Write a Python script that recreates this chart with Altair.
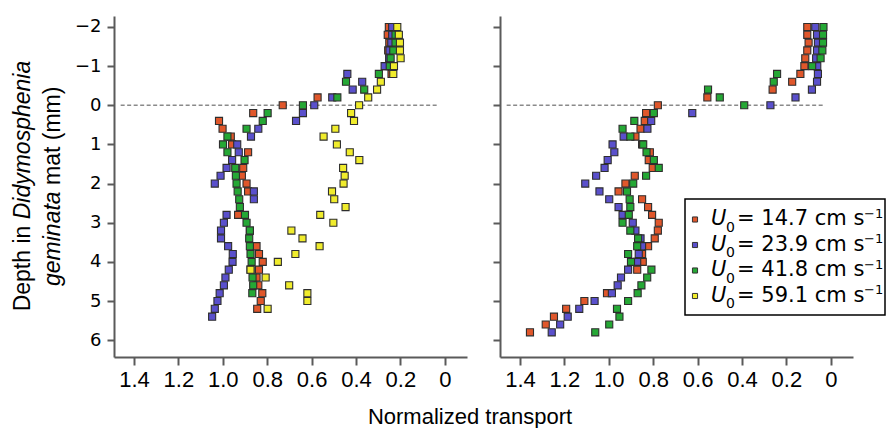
import altair as alt
import pandas as pd

# ---------------- data ----------------
SPEEDS = ["14.7", "23.9", "41.8", "59.1"]
COLORS = ["#E0572B", "#5A50CC", "#25A835", "#F0EC2C"]

# Left panel
L_RED_D = [-2.0, -1.8, -1.6, -1.4, -1.2, -1.0, -0.8, -0.2, 0.0, 0.2, 0.4, 0.6, 0.8, 1.0, 1.2,
           1.6, 1.8, 2.0, 2.2, 2.8, 3.2, 3.6, 3.8, 4.0, 4.2, 4.4, 4.6, 4.8, 5.0, 5.2]
L_RED_V = [0.252, 0.257, 0.250, 0.255, 0.250, 0.260, 0.240, 0.573, 0.730, 0.863, 1.017, 1.001, 0.964, 0.958, 0.886,
           0.908, 0.914, 0.893, 0.886, 0.931, 0.878, 0.848, 0.837, 0.820, 0.837, 0.848, 0.840, 0.822, 0.829, 0.845]

L_BLUE_D = [-2.0, -1.8, -1.6, -1.4, -1.2, -1.0, -0.8, -0.6, -0.4, -0.2,
            0.0, 0.2, 0.4, 0.6, 0.8, 1.0, 1.2, 1.4, 1.6, 1.8, 2.0, 2.2, 2.4,
            2.8, 3.0, 3.2, 3.4, 3.6, 3.8, 4.0, 4.2, 4.4, 4.6, 4.8, 5.0, 5.2, 5.4]
L_BLUE_V = [0.237, 0.237, 0.241, 0.249, 0.250, 0.271, 0.439, 0.372, 0.415, 0.507,
            0.588, 0.639, 0.670, 0.840, 0.873, 0.935, 0.928, 0.958, 0.983, 1.010, 1.036, 0.860, 0.860,
            0.983, 0.995, 1.008, 1.008, 0.976, 0.955, 0.956, 0.973, 0.988, 0.995, 1.014, 1.024, 1.036, 1.048]

L_GREEN_D = [-1.8, -1.6, -1.4, -1.2, -1.0, -0.8, -0.6, -0.4, -0.2,
             0.0, 0.2, 0.4, 0.6, 0.8, 1.0, 1.2, 1.4, 1.6, 1.8, 2.0,
             2.2, 2.4, 2.6, 2.8, 3.0, 3.2, 3.4, 3.6, 3.8, 4.0,
             4.2, 4.4, 4.6, 4.8]
L_GREEN_V = [0.222, 0.222, 0.232, 0.244, 0.248, 0.297, 0.445, 0.363, 0.484,
             0.639, 0.798, 0.820, 0.893, 0.979, 0.999, 0.979, 0.902, 0.944, 0.941, 0.938,
             0.933, 0.926, 0.923, 0.900, 0.893, 0.878, 0.881, 0.878, 0.875, 0.870,
             0.875, 0.866, 0.863, 0.867]

L_YELLOW_D = [-2.0, -1.8, -1.6, -1.4, -1.2, -1.0, -0.8, -0.6, -0.4, -0.2,
              0.0, 0.2, 0.4, 0.6, 0.8, 1.0, 1.2, 1.4, 1.6, 1.8,
              2.0, 2.2, 2.4, 2.6, 2.8, 3.0, 3.2, 3.4, 3.6, 3.8,
              4.0, 4.2, 4.4, 4.6, 4.8, 5.0, 5.2]
L_YELLOW_V = [0.214, 0.207, 0.202, 0.202, 0.199, 0.229, 0.232, 0.288, 0.305, 0.345,
              0.386, 0.422, 0.409, 0.493, 0.546, 0.486, 0.428, 0.385, 0.458, 0.451,
              0.456, 0.508, 0.498, 0.447, 0.561, 0.502, 0.691, 0.641, 0.564, 0.673,
              0.752, 0.875, 0.807, 0.701, 0.619, 0.619, 0.798]

# Right panel
R_RED_D = [-2.0, -1.8, -1.6, -1.4, -1.2, -1.0, -0.8, -0.6, -0.4, -0.2,
           0.0, 0.2, 0.4, 0.6, 0.8, 1.0, 1.2, 1.4, 1.6, 1.8,
           2.0, 2.2, 2.4, 2.6, 2.8, 3.0, 3.2, 3.4, 3.6, 3.8,
           4.0, 4.2, 4.8, 5.0, 5.2, 5.4, 5.6, 5.8]
R_RED_V = [0.106, 0.106, 0.100, 0.106, 0.115, 0.119, 0.137, 0.174, 0.262, 0.556,
           0.779, 0.832, 0.838, 0.857, 0.880, 0.850, 0.815, 0.820, 0.802, 0.883,
           0.925, 0.956, 0.850, 0.823, 0.805, 0.775, 0.779, 0.793, 0.823, 0.850,
           0.847, 0.872, 1.008, 1.110, 1.192, 1.247, 1.284, 1.355]

R_BLUE_D = [-2.0, -1.8, -1.6, -1.4, -1.2, -1.0, -0.8, -0.6, -0.4, -0.2,
            0.0, 0.2, 0.4, 0.6, 0.8, 1.0, 1.2, 1.4, 1.6, 1.8,
            2.0, 2.2, 2.4, 2.6, 2.8, 3.0, 3.2, 3.4, 3.6, 3.8,
            4.0, 4.2, 4.4, 4.6, 4.8, 5.0, 5.2, 5.4, 5.6, 5.8]
R_BLUE_V = [0.070, 0.062, 0.058, 0.062, 0.066, 0.061, 0.058, 0.062, 0.085, 0.159,
            0.272, 0.624, 0.809, 0.826, 0.933, 0.983, 0.975, 1.005, 1.019, 1.057,
            1.106, 1.042, 0.998, 0.956, 0.938, 0.892, 0.880, 0.857, 0.850, 0.865,
            0.872, 0.913, 0.945, 0.960, 0.986, 1.064, 1.133, 1.185, 1.219, 1.257]

R_GREEN_D = R_BLUE_D
R_GREEN_V = [0.033, 0.035, 0.035, 0.038, 0.046, 0.084, 0.242, 0.257, 0.553, 0.500,
             0.390, 0.797, 0.885, 0.938, 0.903, 0.845, 0.830, 0.797, 0.775, 0.832,
             0.890, 0.918, 0.906, 0.903, 0.910, 0.938, 0.903, 0.868, 0.872, 0.913,
             0.900, 0.808, 0.827, 0.853, 0.870, 0.913, 0.963, 0.952, 0.998, 1.061]

X_TICKS = [0, 0.2, 0.4, 0.6, 0.8, 1.0, 1.2, 1.4]
Y_TICKS = [-2, -1, 0, 1, 2, 3, 4, 5, 6]


def frame(series):
    rows = []
    for i, (d, v) in enumerate(series):
        for dd, vv in zip(d, v):
            rows.append({"series": SPEEDS[i], "order": i, "depth": dd, "transport": vv})
    return pd.DataFrame(rows)


left_df = frame([(L_RED_D, L_RED_V), (L_BLUE_D, L_BLUE_V), (L_GREEN_D, L_GREEN_V), (L_YELLOW_D, L_YELLOW_V)])
right_df = frame([(R_RED_D, R_RED_V), (R_BLUE_D, R_BLUE_V), (R_GREEN_D, R_GREEN_V)])

FONT = "Liberation Sans"
FONT2 = "DejaVu Sans"
W, H = 353, 341
AX = "#5a5a5a"

x_scale = alt.Scale(domain=[-0.1, 1.49], reverse=True, nice=False, zero=False)
y_scale = alt.Scale(domain=[-2.28, 6.43], reverse=True, nice=False, zero=False)
color_scale = alt.Scale(domain=SPEEDS, range=COLORS)


def x_axis():
    return alt.Axis(values=X_TICKS, title=None, grid=False,
                    labelExpr="datum.value == 0 ? '0' : format(datum.value, '.1f')",
                    domainColor=AX, domainWidth=2, tickColor=AX, tickWidth=2, tickSize=8,
                    labelFont=FONT, labelFontSize=22, labelColor="black", labelPadding=4)


def y_axis(labels):
    return alt.Axis(values=Y_TICKS, title=None, grid=False, format="d", labels=labels,
                    domainColor=AX, domainWidth=2, tickColor=AX, tickWidth=2, tickSize=7,
                    labelFont=FONT2, labelFontSize=18, labelColor="black", labelPadding=6)


ONE = pd.DataFrame({"k": [0]})


def txt(s, x, y, size, angle=0, align="left", font=FONT, style="normal"):
    return alt.Chart(ONE).mark_text(text=s, angle=angle, align=align, baseline="alphabetic",
                                    font=font, fontSize=size, fontStyle=style,
                                    color="black").encode(x=alt.value(x), y=alt.value(y))


def panel(df, labels):
    zero_line = alt.Chart(ONE).mark_rule(color="#8a8a8a", strokeDash=[4, 2.5], strokeWidth=1.3).encode(
        x=alt.datum(1.46), x2=alt.datum(0.03), y=alt.datum(0))
    pts = alt.Chart(df).mark_square(filled=True, size=50, opacity=1, stroke="#2e2e2e",
                                    strokeWidth=1.1).encode(
        x=alt.X("transport:Q", scale=x_scale, axis=x_axis()),
        y=alt.Y("depth:Q", scale=y_scale, axis=y_axis(labels)),
        color=alt.Color("series:N", scale=color_scale, legend=None),
        order=alt.Order("order:Q"),
    )
    return zero_line, pts


lz, lp = panel(left_df, True)
rz, rp = panel(right_df, False)

# y-axis title with italics (two lines, rotated)
ytitle = [
    txt("Depth in", -84, 209.7, 23, angle=270, align="right"),
    txt("Didymosphenia", -84, 203.3, 23, angle=270, align="left", style="italic"),
    txt("geminata", -54, 270.0, 23, angle=270, align="left", style="italic"),
    txt("mat (mm)", -54, 169.0, 23, angle=270, align="left"),
]
xtitle = txt("Normalized transport", 356, 408, 22, align="center")

left = alt.layer(lz, lp, *ytitle, xtitle).properties(width=W, height=H)

# legend drawn inside the right panel
box = alt.Chart(ONE).mark_rect(fill="white", stroke="black", strokeWidth=1.5).encode(
    x=alt.value(185), x2=alt.value(385), y=alt.value(183), y2=alt.value(299))
leg = [box]
for i, sp in enumerate(SPEEDS):
    base = 209 + 25.5 * i
    leg.append(alt.Chart(ONE).mark_square(filled=True, size=26, stroke="#333333", strokeWidth=1,
                                          color=COLORS[i], opacity=1).encode(
        x=alt.value(195), y=alt.value(base - 5.5)))
    leg.append(txt("U", 211, base, 21, font=FONT2, style="italic"))
    leg.append(txt("0", 226, base + 6.5, 14, font=FONT2))
    leg.append(txt("= " + sp + " cm s", 237, base, 21, font=FONT2))
    leg.append(txt("\u22121", 364, base - 7.5, 13, font=FONT2))

right = alt.layer(rz, rp, *leg).properties(width=W, height=H)

chart = alt.hconcat(left, right, spacing=33, bounds="flush").configure_view(stroke=None).properties(
    padding={"left": 12, "top": 16, "right": 0, "bottom": 0})

chart.save("out.html", embed_options={"renderer": "svg", "actions": False})
